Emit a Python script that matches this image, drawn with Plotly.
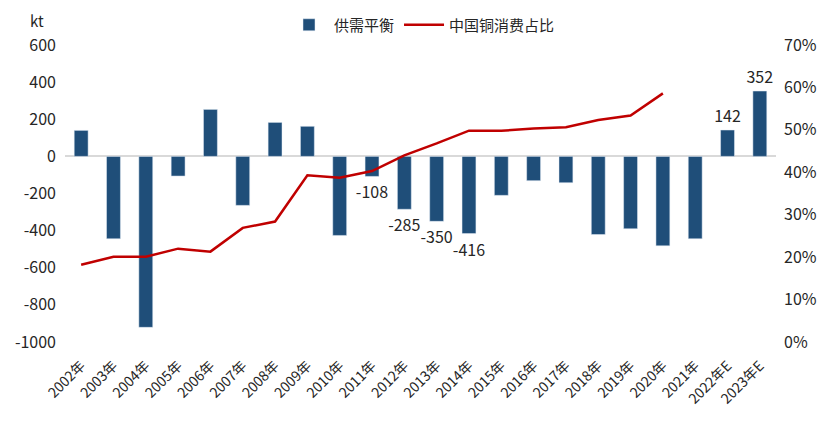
import plotly.graph_objects as go

years = ["2002年", "2003年", "2004年", "2005年", "2006年", "2007年", "2008年", "2009年",
         "2010年", "2011年", "2012年", "2013年", "2014年", "2015年", "2016年", "2017年",
         "2018年", "2019年", "2020年", "2021年", "2022年E", "2023年E"]
balance = [140, -444, -921, -106, 253, -264, 183, 162, -426, -108, -285, -350, -416,
           -210, -131, -142, -421, -390, -482, -444, 142, 352]
balance_labels = ["", "", "", "", "", "", "", "", "", "-108", "-285", "-350", "-416",
                  "", "", "", "", "", "", "", "142", "352"]
china_share = [0.182, 0.201, 0.201, 0.220, 0.213, 0.269, 0.284, 0.393, 0.387, 0.403,
               0.440, 0.468, 0.498, 0.498, 0.503, 0.506, 0.523, 0.534, 0.586, None, None, None]
left_ticks = [-1000, -800, -600, -400, -200, 0, 200, 400, 600]
left_tick_text = ["-1000", "-800", "-600", "-400", "-200", "0", "200", "400", "600"]

font_family = "Noto Sans CJK SC, Noto Sans, sans-serif"
text_color = "#262626"

W, H = 831, 422
ML, MR, MT, MB = 57, 63, 37, 88

fig = go.Figure()
fig.add_trace(go.Bar(
    x=years, y=balance, name="供需平衡",
    marker=dict(color="#1F4E79"),
    text=balance_labels, textposition="outside", constraintext="none",
    textfont=dict(size=16, color=text_color, family=font_family),
    cliponaxis=False,
))
fig.add_trace(go.Scatter(
    x=years, y=china_share, name="中国铜消费占比", yaxis="y2",
    mode="lines", line=dict(color="#C00000", width=2.5),
    connectgaps=False,
))

fig.update_layout(
    width=W, height=H,
    margin=dict(l=ML, r=MR, t=MT, b=MB, autoexpand=False),
    paper_bgcolor="white", plot_bgcolor="white",
    font=dict(family=font_family, size=14, color=text_color),
    bargap=0.57,
    showlegend=True,
    legend=dict(orientation="h", x=414 / W, xanchor="center", xref="container",
                y=(H - 17) / H, yanchor="middle", yref="container",
                font=dict(size=15, color=text_color), itemwidth=40),
    xaxis=dict(
        tickangle=-45, showgrid=False, showline=False, ticks="", automargin=False,
        ticklabelstandoff=12,
        tickfont=dict(size=14, color=text_color),
    ),
    yaxis=dict(
        range=[-1000, 600], tickvals=left_ticks, ticktext=left_tick_text,
        showgrid=False, zeroline=True, automargin=False, ticklabelstandoff=8,
        zerolinecolor="#D9D9D9", zerolinewidth=1.5, showline=False, ticks="",
        tickfont=dict(size=16, color=text_color),
    ),
    yaxis2=dict(
        range=[0, 0.7], dtick=0.1, tickformat=".0%", overlaying="y", side="right",
        showgrid=False, zeroline=False, showline=False, ticks="", automargin=False,
        ticklabelstandoff=7,
        tickfont=dict(size=16, color=text_color),
    ),
)
plot_w = W - ML - MR
plot_h = H - MT - MB
fig.add_annotation(text="kt", x=(29 - ML) / plot_w, y=(H - MB - 13) / plot_h,
                   xref="paper", yref="paper", showarrow=False,
                   xanchor="center", yanchor="middle",
                   font=dict(size=15, color=text_color))

fig.write_html("out.html")
